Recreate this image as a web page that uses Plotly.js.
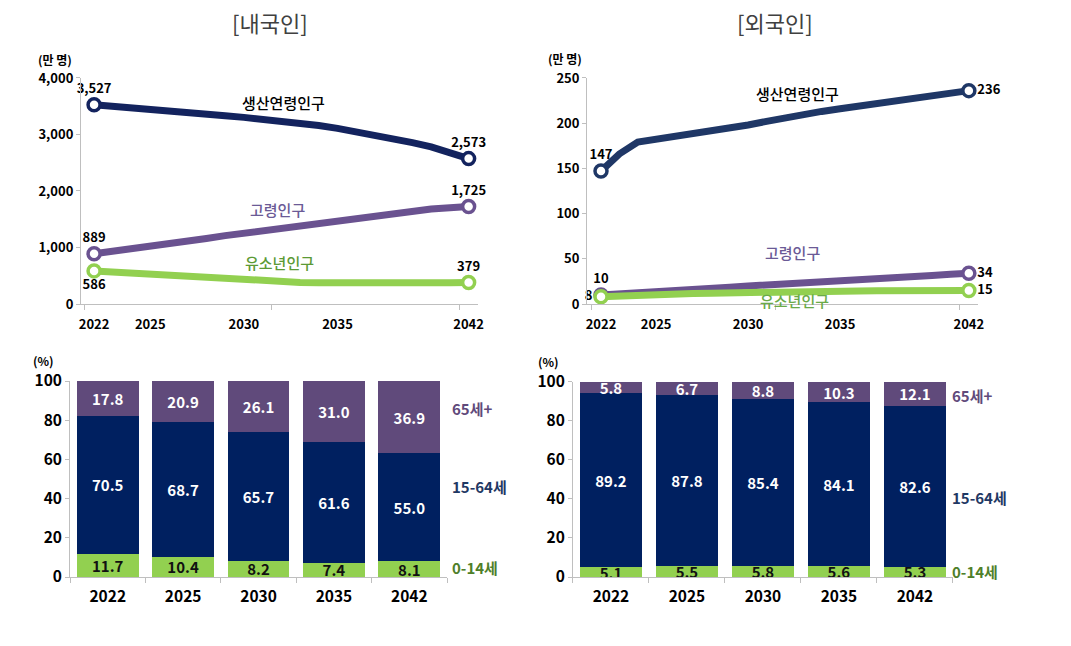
<!DOCTYPE html>
<html>
<head>
<meta charset="utf-8">
<script src="https://cdn.plot.ly/plotly-3.0.1.min.js"></script>
<style>
html,body{margin:0;padding:0;background:#fff;}
#chart{width:1071px;height:646px;}
</style>
</head>
<body>
<div id="chart"></div>
<script>
// ---------- data ----------
const years = [2022,2023,2024,2025,2026,2027,2028,2029,2030,2031,2032,2033,2034,2035,2036,2037,2038,2039,2040,2041,2042];
const korWorking = [3527,3503,3476,3450,3422,3392,3362,3332,3303,3272,3240,3202,3158,3108,3052,2990,2925,2855,2782,2680,2573];
const korElderly = [889,930,975,1020,1065,1110,1160,1210,1255,1300,1350,1395,1440,1485,1530,1575,1615,1650,1680,1705,1725];
const korYouth   = [586,565,545,525,505,482,460,440,422,405,392,382,375,371,369,369,370,372,374,377,379];
const forWorking = [147,166,179,182,185,188,191,194,198,202,206,210,213,216,219,222,225,228,231,234,236];
const forElderly = [10,11,12,13,14,15.5,17,18.5,20,21,22,23,24.5,26,27,28.5,29.5,30.5,31.5,33,34];
const forYouth   = [8,9,10,10.5,11,11.5,12,12.5,13,13.3,13.6,13.9,14.1,14.3,14.5,14.6,14.7,14.8,14.9,15,15];
const lineTickYears = [2022,2025,2030,2035,2042];
const seriesNames = ['생산연령인구','고령인구','유소년인구'];

const barYears = ['2022','2025','2030','2035','2042'];
const korShare014  = [11.7,10.4,8.2,7.4,8.1];
const korShare1564 = [70.5,68.7,65.7,61.6,55.0];
const korShare65   = [17.8,20.9,26.1,31.0,36.9];
const forShare014  = [5.1,5.5,5.8,5.6,5.3];
const forShare1564 = [89.2,87.8,85.4,84.1,82.6];
const forShare65   = [5.8,6.7,8.8,10.3,12.1];
const ageGroups = ['0-14세','15-64세','65세+'];

// ---------- styles ----------
const FONT = '"Noto Sans CJK KR", "Noto Sans", sans-serif';
const cNavy = '#13235e', cNavy2 = '#1f3766', cPurple = '#6a5290', cGreen = '#92d050';
const bGreen = '#92d050', bNavy = '#002060', bPurple = '#604a7b';
const axisGray = '#bfbfbf';

const traces = [];
function endpoints(arr){ return [arr[0], arr[arr.length-1]]; }
function fmt(v){ return Math.round(v).toLocaleString('en-US'); }

function addLine(xa, ya, yvals, color, positions){
  traces.push({x: years, y: yvals, xaxis: xa, yaxis: ya, type:'scatter', mode:'lines',
    line:{color: color, width: 7}, hoverinfo:'skip', showlegend:false, cliponaxis:false});
  const ev = endpoints(yvals);
  traces.push({x: endpoints(years), y: ev, xaxis: xa, yaxis: ya, type:'scatter', mode:'markers+text',
    marker:{size:12, color:'#ffffff', line:{color: color, width:3.5}},
    text: ev.map(fmt), textposition: positions,
    textfont:{family: FONT, size:13, color:'#000', weight:'bold'},
    hoverinfo:'skip', showlegend:false, cliponaxis:false});
}
addLine('x','y', korWorking, cNavy, ['top center','top center']);
addLine('x','y', korElderly, cPurple, ['top center','top center']);
addLine('x','y', korYouth, cGreen, ['bottom center','top center']);
addLine('x2','y2', forWorking, cNavy2, ['top center','middle right']);
addLine('x2','y2', forElderly, cPurple, ['top center','middle right']);
addLine('x2','y2', forYouth, cGreen, ['middle left','middle right']);

function addBars(xa, ya, a, b, c){
  const sets = [[a, bGreen, '#111'], [b, bNavy, '#fff'], [c, bPurple, '#fff']];
  sets.forEach((s, i) => {
    traces.push({x: barYears, y: s[0], xaxis: xa, yaxis: ya, type:'bar', name: ageGroups[i],
      marker:{color: s[1]}, text: s[0].map(v => v.toFixed(1)), textposition:'inside',
      insidetextanchor:'middle', constraintext:'none', textangle:0,
      textfont:{family: FONT, size:15, color: s[2], weight:'bold'}, hoverinfo:'skip', showlegend:false});
  });
}
addBars('x3','y3', korShare014, korShare1564, korShare65);
addBars('x4','y4', forShare014, forShare1564, forShare65);

// ---------- axes ----------
const tickFontTop = {family: FONT, size:13, color:'#000', weight:'bold'};
const tickFontBot = {family: FONT, size:15.5, color:'#000', weight:'bold'};
function lineX(domain, range){
  return {domain: domain, range: range, type:'linear', tickmode:'array', tickvals: lineTickYears,
    ticktext: lineTickYears.map(String), ticks:'', showline:true, linecolor: axisGray, linewidth:1,
    showgrid:false, zeroline:false, tickfont: tickFontTop, ticklabelstandoff: 8,
    minor:{tickmode:'array', tickvals:[2021.5,2031.5,2041.5], ticks:'outside', ticklen:5, tickcolor: axisGray, showgrid:false}};
}
function lineY(domain, range, dtick, anchor){
  return {domain: domain, range: range, tickmode:'linear', tick0:0, dtick: dtick, tickformat:',',
    ticks:'outside', ticklen:4, tickcolor: axisGray, showline:true, linecolor: axisGray,
    showgrid:false, zeroline:false, tickfont: tickFontTop, anchor: anchor};
}
function barX(domain, anchor){
  return {domain: domain, type:'category', tickson:'boundaries', ticks:'outside', ticklen:5,
    tickcolor: axisGray, showline:true, linecolor: axisGray, showgrid:false, tickfont: tickFontBot,
    anchor: anchor, ticklabelstandoff: 5};
}
function barY(domain, anchor){
  return {domain: domain, range:[0,100], tickmode:'linear', tick0:0, dtick:20, ticks:'outside',
    ticklen:4, tickcolor: axisGray, showline:true, linecolor: axisGray, showgrid:false,
    zeroline:false, tickfont: tickFontBot, anchor: anchor};
}

const ann = [];
function txt(x, y, text, opts){
  ann.push(Object.assign({x:x, y:y, text:text, showarrow:false, xanchor:'center', yanchor:'middle',
    font:{family: FONT, size:12, color:'#000', weight:'bold'}}, opts));
}
// titles
txt(0.252, 0.966, '[내국인]', {xref:'paper', yref:'paper', font:{family: FONT, size:22, color:'#404040'}});
txt(0.7236, 0.966, '[외국인]', {xref:'paper', yref:'paper', font:{family: FONT, size:22, color:'#404040'}});
// units
txt(0.0514, 0.9075, '(만 명)', {xref:'paper', yref:'paper'});
txt(0.5275, 0.910, '(만 명)', {xref:'paper', yref:'paper'});
txt(0.041, 0.4415, '(%)', {xref:'paper', yref:'paper'});
txt(0.5117, 0.4400, '(%)', {xref:'paper', yref:'paper'});
// inline series labels
const lblFont = (c) => ({family: FONT, size:15, color: c, weight:500});
txt(2032.1, 3563, seriesNames[0], {xref:'x', yref:'y', font: lblFont('#000')});
txt(2031.8, 1669, seriesNames[1], {xref:'x', yref:'y', font: lblFont('#6b5a96')});
txt(2031.9, 730, seriesNames[2], {xref:'x', yref:'y', font: lblFont('#5c9a35')});
txt(2032.7, 233, seriesNames[0], {xref:'x2', yref:'y2', font: lblFont('#000')});
txt(2032.4, 57.5, seriesNames[1], {xref:'x2', yref:'y2', font: lblFont('#6b5a96')});
txt(2032.5, 4.4, seriesNames[2], {xref:'x2', yref:'y2', font: lblFont('#6aaa48')});
// bar group labels
const grpFont = (c) => ({family: FONT, size:15, color: c, weight:'bold'});
const grpColors = ['#4f7f2a', '#1f3864', '#604a7b'];
[[4.6,46,86],[3,41,93]].forEach((ys, k) => {
  const xp = k === 0 ? 450/1071 : 950/1071;
  const yr = k === 0 ? 'y3' : 'y4';
  ys.forEach((yv, i) => {
    txt(xp, yv, ageGroups[i], {xref:'paper', yref: yr, xanchor:'left', font: grpFont(grpColors[i])});
  });
});

const layout = {
  width:1071, height:646, margin:{l:0, r:0, t:0, b:0},
  paper_bgcolor:'#fff', plot_bgcolor:'#fff', barmode:'stack', bargap:0.18,
  showlegend:false, font:{family: FONT},
  xaxis: Object.assign(lineX([0.0756,0.4463],[2021.3,2042.5]), {anchor:'y'}),
  yaxis: lineY([0.5294,0.8793],[0,4000],1000,'x'),
  xaxis2: Object.assign(lineX([0.5481,0.9132],[2021.24,2042.5]), {anchor:'y2'}),
  yaxis2: lineY([0.5294,0.8793],[0,250],50,'x2'),
  xaxis3: barX([0.0654,0.4174],'y3'),
  yaxis3: barY([0.1068,0.4102],'x3'),
  xaxis4: barX([0.5350,0.8898],'y4'),
  yaxis4: barY([0.1068,0.4087],'x4'),
  annotations: ann
};

Plotly.newPlot('chart', traces, layout, {staticPlot:true, displayModeBar:false});
</script>
</body>
</html>
